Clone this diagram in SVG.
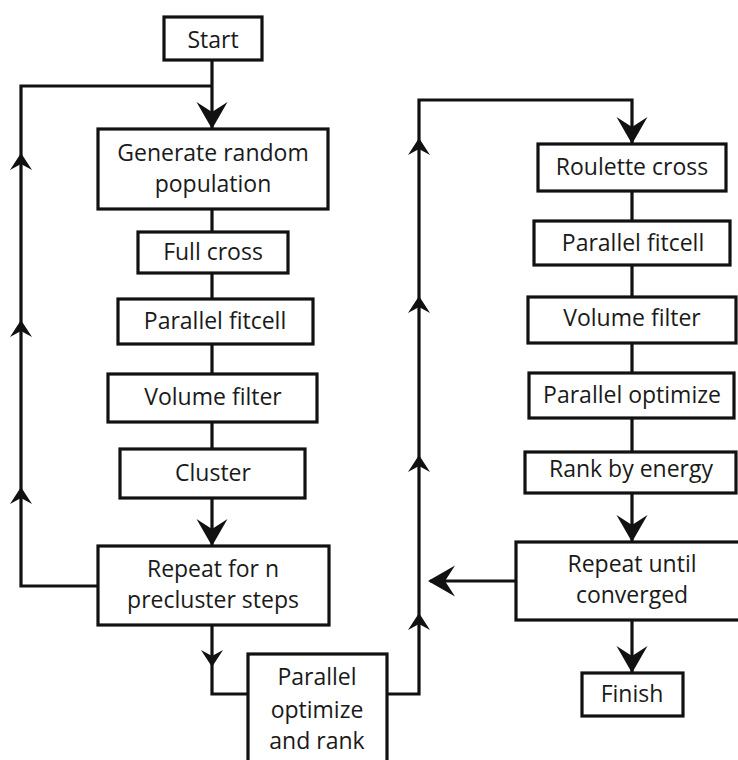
<svg xmlns="http://www.w3.org/2000/svg" width="738" height="760" viewBox="0 0 738 760">
  <style>
    .box { fill: #ffffff; stroke: #111111; stroke-width: 3.2; }
    .wire { fill: none; stroke: #111111; stroke-width: 3.2; stroke-linejoin: miter; }
    .head { fill: #111111; stroke: none; }
    text { font-family: "Open Sans", "Liberation Sans", sans-serif; font-size: 23px; fill: #1a1a1a; text-anchor: middle; }
  </style>
  <defs>
    <!-- large arrowhead, pointing down, tip at origin -->
    <path id="headL" class="head" d="M0,0 L-15.5,-27 L0,-17 L15.5,-27 Z"/>
    <!-- small arrowhead, pointing down, tip at origin -->
    <path id="headS" class="head" d="M0,0 L-11,-17 L0,-11 L11,-17 Z"/>
  </defs>
  <rect width="738" height="760" fill="#ffffff"/>

  <g id="connectors">
    <!-- start into population generation, with pre-cluster loop return -->
    <path class="wire" d="M212,60 V128"/>
    <path class="wire" d="M98,586 H21 V86 H212"/>
    <use href="#headL" x="212" y="129"/>
    <use href="#headS" transform="translate(21,153) rotate(180)"/>
    <use href="#headS" transform="translate(21,320) rotate(180)"/>
    <use href="#headS" transform="translate(21,487) rotate(180)"/>
    <!-- left chain -->
    <path class="wire" d="M212,209 V232 M212,273 V299 M212,344 V374 M212,422 V449 M212,498 V545"/>
    <use href="#headL" x="212" y="546"/>
    <!-- pre-cluster to optimize -->
    <path class="wire" d="M212,625 V694 H248"/>
    <use href="#headS" x="212" y="667"/>
    <!-- optimize to main loop -->
    <path class="wire" d="M387,694 H419 V100 H632 V143"/>
    <use href="#headL" x="632" y="144"/>
    <use href="#headS" transform="translate(419,138) rotate(180)"/>
    <use href="#headS" transform="translate(419,296) rotate(180)"/>
    <use href="#headS" transform="translate(419,455) rotate(180)"/>
    <use href="#headS" transform="translate(419,613) rotate(180)"/>
    <!-- right chain -->
    <path class="wire" d="M632,191 V221 M632,265 V297 M632,343 V373 M632,418 V452 M632,493 V541"/>
    <use href="#headL" x="632" y="542"/>
    <!-- convergence loop back and finish -->
    <path class="wire" d="M516,581 H430"/>
    <use href="#headL" transform="translate(428,581) rotate(90)"/>
    <path class="wire" d="M632,620 V672"/>
    <use href="#headL" x="632" y="673"/>
  </g>

  <g id="start">
    <rect class="box" x="164" y="17" width="98" height="43"/>
    <text x="213" y="48">Start</text>
  </g>
  <g id="generate">
    <rect class="box" x="98" y="129" width="230" height="80"/>
    <text x="213" y="161">Generate random</text>
    <text x="213" y="192">population</text>
  </g>
  <g id="full-cross">
    <rect class="box" x="138" y="232" width="150" height="41"/>
    <text x="213" y="260">Full cross</text>
  </g>
  <g id="fitcell-1">
    <rect class="box" x="118" y="299" width="195" height="45"/>
    <text x="215" y="329">Parallel fitcell</text>
  </g>
  <g id="volume-1">
    <rect class="box" x="108" y="374" width="209" height="48"/>
    <text x="213" y="405">Volume filter</text>
  </g>
  <g id="cluster">
    <rect class="box" x="120" y="449" width="185" height="49"/>
    <text x="213" y="481">Cluster</text>
  </g>
  <g id="repeat-precluster">
    <rect class="box" x="98" y="546" width="231" height="79"/>
    <text x="213" y="577">Repeat for n</text>
    <text x="213" y="608">precluster steps</text>
  </g>
  <g id="optimize-rank">
    <rect class="box" x="248" y="654" width="139" height="120"/>
    <text x="317" y="685">Parallel</text>
    <text x="317" y="718">optimize</text>
    <text x="317" y="749">and rank</text>
  </g>
  <g id="roulette">
    <rect class="box" x="538" y="144" width="188" height="47"/>
    <text x="632" y="175">Roulette cross</text>
  </g>
  <g id="fitcell-2">
    <rect class="box" x="534" y="221" width="196" height="44"/>
    <text x="633" y="251">Parallel fitcell</text>
  </g>
  <g id="volume-2">
    <rect class="box" x="528" y="297" width="208" height="46"/>
    <text x="632" y="326">Volume filter</text>
  </g>
  <g id="optimize-2">
    <rect class="box" x="529" y="373" width="205" height="45"/>
    <text x="632" y="403">Parallel optimize</text>
  </g>
  <g id="rank">
    <rect class="box" x="525" y="452" width="211" height="41"/>
    <text x="631" y="477">Rank by energy</text>
  </g>
  <g id="repeat-converged">
    <rect class="box" x="516" y="542" width="232" height="78"/>
    <text x="632" y="572">Repeat until</text>
    <text x="632" y="603">converged</text>
  </g>
  <g id="finish">
    <rect class="box" x="582" y="673" width="101" height="43"/>
    <text x="632" y="702">Finish</text>
  </g>
</svg>
